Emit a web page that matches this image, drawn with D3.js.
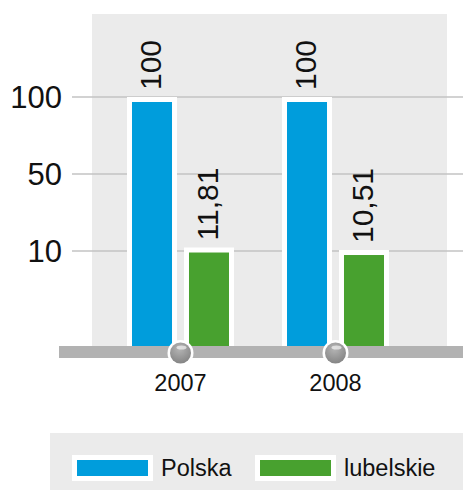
<!DOCTYPE html>
<html>
<head>
<meta charset="utf-8">
<script src="https://cdn.jsdelivr.net/npm/d3@7"></script>
<style>
  body { margin: 0; background: #fff; }
  svg { display: block; font-family: "Liberation Sans", Arial, sans-serif; }
</style>
</head>
<body>
<div id="chart"></div>
<script>
// data
const years = ['2007', '2008'];
const seriesNames = ['Polska', 'lubelskie'];
const polska = [100, 100];
const lubelskie = [11.81, 10.51];
const yTicks = [10, 50, 100];

const colors = ['#009ddc', '#48a12f'];

const width = 463, height = 490;

let svg = d3.select('#chart').append('svg')
    .attr('width', width)
    .attr('height', height);

let defs = svg.append('defs');
let grad = defs.append('radialGradient')
    .attr('id', 'knob')
    .attr('cx', '45%').attr('cy', '30%').attr('r', '70%');
grad.append('stop').attr('offset', '0%').attr('stop-color', '#b5b5b5');
grad.append('stop').attr('offset', '100%').attr('stop-color', '#858585');

// scales (ticks are evenly spaced, so a piecewise scale)
let y = d3.scaleLinear()
    .domain([0, 10, 50, 100])
    .range([346, 251, 174, 97]);

let x = d3.scaleBand()
    .domain(years)
    .range([103, 413])
    .padding(0);

let xSub = d3.scaleBand()
    .domain(seriesNames)
    .range([0, x.bandwidth()])
    .paddingInner(0.298)
    .paddingOuter(0.509);

// plot background
svg.append('rect')
    .attr('x', 92).attr('y', 14)
    .attr('width', 447 - 92).attr('height', 346 - 14)
    .attr('fill', '#ebebeb');

// grid + y labels
svg.append('g').selectAll('line')
    .data(yTicks)
    .join('line')
    .attr('x1', 72).attr('x2', width)
    .attr('y1', d => y(d)).attr('y2', d => y(d))
    .attr('stroke', '#c3c3c3')
    .attr('stroke-width', 1.3);

svg.append('g').selectAll('text')
    .data(yTicks)
    .join('text')
    .attr('x', 62)
    .attr('y', d => y(d) + 11)
    .attr('text-anchor', 'end')
    .attr('font-size', 31)
    .attr('fill', '#111')
    .text(d => d);

// bars
let data = years.map((yr, i) => ({
    year: yr,
    values: [{ key: seriesNames[0], v: polska[i], c: colors[0] },
             { key: seriesNames[1], v: lubelskie[i], c: colors[1] }]
}));

let groups = svg.append('g').selectAll('g')
    .data(data)
    .join('g')
    .attr('transform', d => 'translate(' + x(d.year) + ',0)');

let bars = groups.selectAll('g')
    .data(d => d.values)
    .join('g');

bars.append('rect')
    .attr('x', d => xSub(d.key) - 5)
    .attr('y', d => y(d.v))
    .attr('width', xSub.bandwidth() + 10)
    .attr('height', d => y(0) - y(d.v))
    .attr('fill', '#fff');

bars.append('rect')
    .attr('x', d => xSub(d.key))
    .attr('y', d => y(d.v) + 5)
    .attr('width', xSub.bandwidth())
    .attr('height', d => y(0) - y(d.v) - 5)
    .attr('fill', d => d.c);

bars.append('text')
    .attr('transform', d => 'translate(' + (xSub(d.key) + xSub.bandwidth() / 2 + 9) + ',' + (y(d.v) - 7) + ') rotate(-90)')
    .attr('font-size', 30)
    .attr('fill', '#111')
    .text(d => String(d.v).replace('.', ','));

// baseline bar
svg.append('rect')
    .attr('x', 59).attr('y', 346)
    .attr('width', width - 59).attr('height', 12)
    .attr('fill', '#b2b2b2');

// knobs + x labels
let knobs = svg.append('g').selectAll('g')
    .data(years)
    .join('g')
    .attr('transform', d => 'translate(' + (x(d) + x.bandwidth() / 2) + ',353)');

knobs.append('circle').attr('r', 13).attr('fill', '#fff');
knobs.append('circle').attr('r', 10.5).attr('fill', 'url(#knob)');
knobs.append('ellipse')
    .attr('cx', 1).attr('cy', -5.5).attr('rx', 5).attr('ry', 2)
    .attr('fill', '#fff').attr('opacity', 0.6);

svg.append('g').selectAll('text')
    .data(years)
    .join('text')
    .attr('x', d => x(d) + x.bandwidth() / 2)
    .attr('y', 391)
    .attr('text-anchor', 'middle')
    .attr('font-size', 23.5)
    .attr('fill', '#111')
    .text(d => d);

// legend
svg.append('rect')
    .attr('x', 50).attr('y', 433)
    .attr('width', width - 50).attr('height', height - 433)
    .attr('fill', '#ebebeb');

let legendX = [72, 255];
let legend = svg.append('g').selectAll('g')
    .data(seriesNames)
    .join('g')
    .attr('transform', (d, i) => 'translate(' + legendX[i] + ',455)');

legend.append('rect')
    .attr('width', 81).attr('height', 26)
    .attr('fill', '#fff');
legend.append('rect')
    .attr('x', 5).attr('y', 5)
    .attr('width', 71).attr('height', 16)
    .attr('fill', (d, i) => colors[i]);
legend.append('text')
    .attr('x', 89).attr('y', 21)
    .attr('font-size', 23.5)
    .attr('fill', '#111')
    .text(d => d);
</script>
</body>
</html>
